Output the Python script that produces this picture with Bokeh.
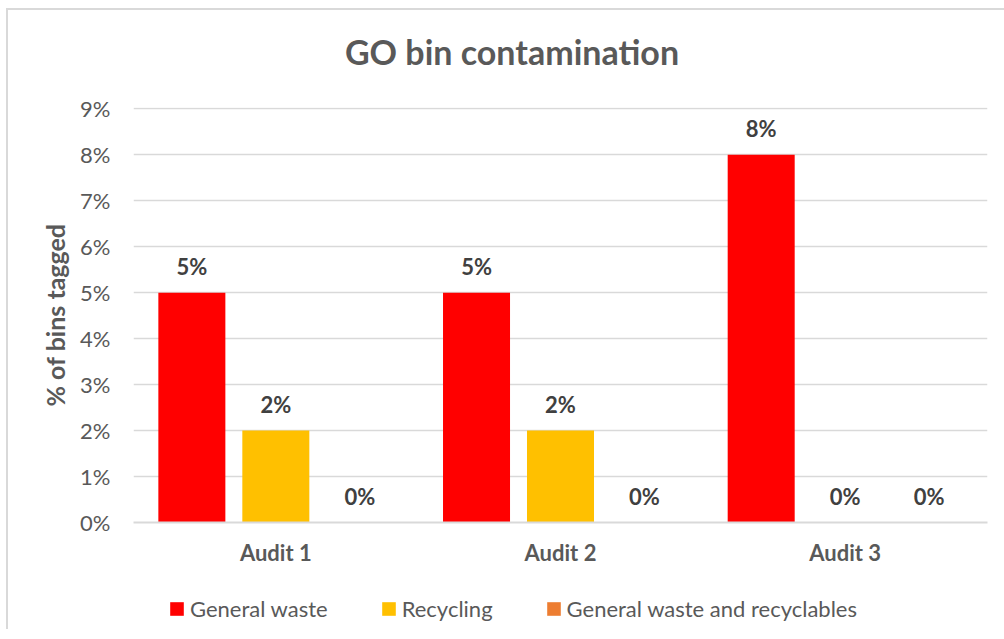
from bokeh.plotting import figure
from bokeh.layouts import column
from bokeh.models import (ColumnDataSource, FactorRange, Range1d, LabelSet, Label, Legend,
                          LegendItem, PrintfTickFormatter, FixedTicker)
from bokeh.transform import dodge
from bokeh.embed import file_html
from bokeh.resources import INLINE
from bokeh.core.properties import value

# ---- data ----
title_text = "GO bin contamination"
y_axis_title = "% of bins tagged"
audits = ["Audit 1", "Audit 2", "Audit 3"]
series_names = ["General waste", "Recycling", "General waste and recyclables"]
general_waste = [5, 5, 8]
recycling = [2, 2, 0]
general_and_recyclables = [0, 0, 0]
y_ticks = [0, 1, 2, 3, 4, 5, 6, 7, 8, 9]

colors = ["#FF0000", "#FFC000", "#ED7D31"]
FONT = "Lato"
GREY = "#595959"
FS = "22px"
W = 996
FRAME_W = 854   # plot-frame width shared (aligned) by all stacked figures


def bare(fig):
    fig.outline_line_color = None
    fig.xaxis.visible = False
    fig.yaxis.visible = False
    fig.xgrid.visible = False
    fig.ygrid.visible = False
    fig.background_fill_color = "white"
    fig.border_fill_color = "white"


# ---- title strip ----
HEAD_H = 80
head = figure(width=W, height=HEAD_H, x_range=Range1d(0, FRAME_W), y_range=Range1d(0, HEAD_H),
              title=None, output_backend="svg", toolbar_location=None,
              min_border=0, min_border_left=0, min_border_right=0,
              min_border_top=0, min_border_bottom=0)
bare(head)
head.add_layout(Label(x=378.5, y=39, text=title_text, text_align="center",
                      text_baseline="alphabetic", text_font=FONT,
                      text_font_style="bold", text_font_size="34px", text_color=GREY))

# ---- main chart ----
src = ColumnDataSource(dict(
    audit=audits,
    gw=general_waste,
    rc=recycling,
    gr=general_and_recyclables,
    gw_lbl=[f"{v}%" for v in general_waste],
    rc_lbl=[f"{v}%" for v in recycling],
    gr_lbl=[f"{v}%" for v in general_and_recyclables],
))

p = figure(x_range=FactorRange(factors=audits, range_padding=0),
           y_range=Range1d(0, 9.03), title=None,
           width=W, height=479, output_backend="svg", toolbar_location=None,
           min_border_left=125, min_border_right=17,
           min_border_top=17, min_border_bottom=47)

p.outline_line_color = None
p.background_fill_color = "white"
p.border_fill_color = "white"
p.xgrid.grid_line_color = None
p.ygrid.grid_line_color = "#D9D9D9"
p.ygrid.grid_line_width = 1.5

offsets = [-0.295, 0.0, 0.295]
bar_w = 0.2354
cols = ["gw", "rc", "gr"]
for off, col, c in zip(offsets, cols, colors):
    p.vbar(x=dodge("audit", off, range=p.x_range), top=col, width=bar_w,
           source=src, fill_color=c, line_color=None)
    labels = LabelSet(x=dodge("audit", off, range=p.x_range), y=col, text=col + "_lbl",
                      source=src, text_align="center", text_baseline="alphabetic",
                      y_offset=18, text_font=value(FONT), text_font_style="bold",
                      text_font_size=FS, text_color="#404040")
    p.add_layout(labels)

# y axis
p.yaxis.ticker = FixedTicker(ticks=y_ticks)
p.yaxis.formatter = PrintfTickFormatter(format="%d%%")
p.yaxis.axis_line_color = None
p.yaxis.major_tick_line_color = None
p.yaxis.minor_tick_line_color = None
p.yaxis.major_tick_out = 0
p.yaxis.major_label_standoff = 23
p.yaxis.major_label_text_font = FONT
p.yaxis.major_label_text_font_size = FS
p.yaxis.major_label_text_color = GREY
p.yaxis.axis_label = y_axis_title
p.yaxis.axis_label_text_font = FONT
p.yaxis.axis_label_text_font_style = "bold"
p.yaxis.axis_label_text_font_size = "25px"
p.yaxis.axis_label_text_color = GREY
p.yaxis.axis_label_standoff = 7

# x axis
p.xaxis.axis_line_color = "#D9D9D9"
p.xaxis.axis_line_width = 2
p.xaxis.major_tick_line_color = None
p.xaxis.minor_tick_line_color = None
p.xaxis.major_tick_out = 0
p.xaxis.major_label_standoff = 16
p.xaxis.major_label_text_font = FONT
p.xaxis.major_label_text_font_style = "bold"
p.xaxis.major_label_text_font_size = FS
p.xaxis.major_label_text_color = GREY

# ---- legend strip ----
FOOT_H = 60
foot = figure(width=W, height=FOOT_H, x_range=Range1d(0, 1), y_range=Range1d(0, 1),
              title=None, output_backend="svg", toolbar_location=None,
              min_border=0, min_border_left=0, min_border_right=0,
              min_border_top=0, min_border_bottom=0)
bare(foot)
# legend keys: one off-screen bar per series so the legend can draw its swatch
keys = [foot.vbar(x=[-5], top=[-4], bottom=[-5], width=0.1, fill_color=c, line_color=None)
        for c in colors]
legend = Legend(items=[LegendItem(label=n, renderers=[r]) for n, r in zip(series_names, keys)],
                orientation="horizontal", location=(35, 7),
                glyph_width=17, glyph_height=17, label_standoff=5, spacing=52,
                padding=0, margin=0, border_line_color=None, background_fill_alpha=0,
                label_text_font=FONT, label_text_font_size=FS, label_text_color=GREY)
foot.add_layout(legend)

root = column(head, p, foot, spacing=0,
              styles={"margin-left": "6px", "margin-top": "8px", "overflow": "hidden",
                      "border-left": "2px solid #D9D9D9", "border-top": "2px solid #D9D9D9"})

open("out.html", "w").write(file_html(root, INLINE))
